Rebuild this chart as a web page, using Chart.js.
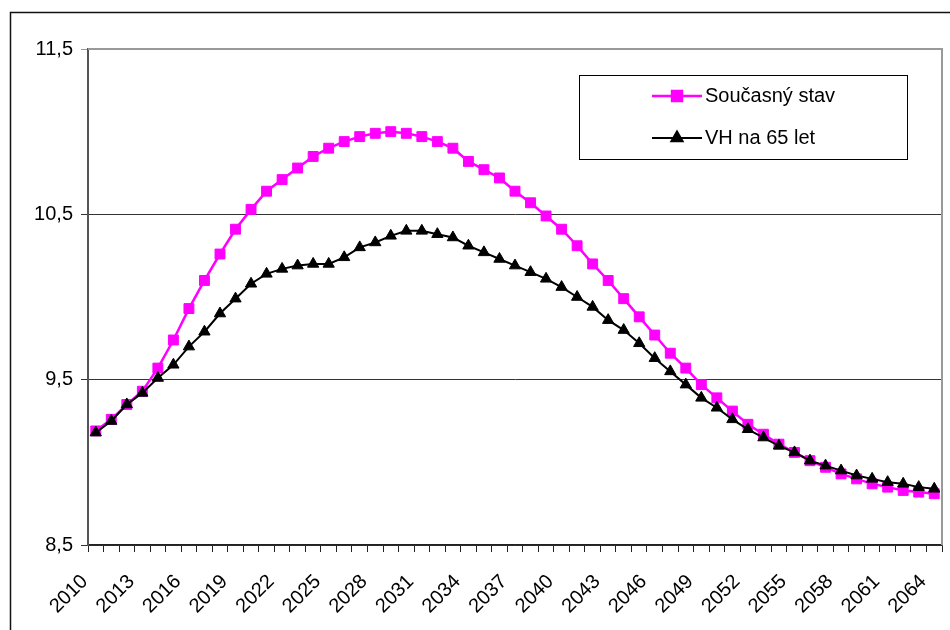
<!DOCTYPE html>
<html lang="cs">
<head>
    <meta charset="UTF-8">
    <title>Současný stav / VH na 65 let</title>
    <script src="https://cdn.jsdelivr.net/npm/chart.js@4"></script>
    <style>
        body { margin: 0; background: #fff; }
        #wrap { width: 950px; height: 630px; }
    </style>
</head>
<body>
    <div id="wrap"><canvas id="chart" width="950" height="630"></canvas></div>

    <script>
        // roky 2010 - 2064
        var years = [];
        for (var y = 2010; y <= 2064; y++) years.push(String(y));

        var currentState = [
            9.19, 9.26, 9.35, 9.43, 9.57, 9.74, 9.93, 10.10, 10.26, 10.41,
            10.53, 10.64, 10.71, 10.78, 10.85, 10.90, 10.94, 10.97, 10.99, 11.00,
            10.99, 10.97, 10.94, 10.90, 10.82, 10.77, 10.72, 10.64, 10.57, 10.49,
            10.41, 10.31, 10.20, 10.10, 9.99, 9.88, 9.77, 9.66, 9.57, 9.47,
            9.39, 9.31, 9.23, 9.17, 9.11, 9.06, 9.01, 8.97, 8.93, 8.90,
            8.87, 8.85, 8.83, 8.82, 8.81
        ];

        var retirement65 = [
            9.18, 9.25, 9.35, 9.42, 9.51, 9.59, 9.70, 9.79, 9.90, 9.99,
            10.08, 10.14, 10.17, 10.19, 10.20, 10.20, 10.24, 10.30, 10.33, 10.37,
            10.40, 10.40, 10.38, 10.36, 10.31, 10.27, 10.23, 10.19, 10.15, 10.11,
            10.06, 10.00, 9.94, 9.86, 9.80, 9.72, 9.63, 9.55, 9.47, 9.39,
            9.33, 9.26, 9.20, 9.15, 9.10, 9.06, 9.01, 8.98, 8.95, 8.92,
            8.90, 8.88, 8.87, 8.85, 8.84
        ];

        var yTicks = [8.5, 9.5, 10.5, 11.5];

        var FONT = "'Liberation Sans', Arial, sans-serif";

        // ramecek kolem celeho grafu + prava/horni hrana plochy
        var framePlugin = {
            id: 'frame',
            beforeDraw(chart) {
                var c = chart.ctx;
                c.save();
                c.fillStyle = '#fff';
                c.fillRect(0, 0, chart.width, chart.height);
                c.strokeStyle = '#111';
                c.lineWidth = 1.5;
                c.strokeRect(10.5, 12.5, 1000, 1000);
                c.restore();
            },
            beforeDatasetsDraw(chart) {
                var a = chart.chartArea, c = chart.ctx;
                c.save();
                c.strokeStyle = '#999';
                c.lineWidth = 2;
                c.beginPath();
                c.moveTo(a.left, a.top);
                c.lineTo(a.right, a.top);
                c.lineTo(a.right, a.bottom);
                c.stroke();
                c.restore();
            }
        };

        // legenda v boxu uvnitr grafu
        var boxLegend = {
            id: 'boxLegend',
            afterDraw(chart) {
                var c = chart.ctx;
                var bx = 579.5, by = 75.5, bw = 328, bh = 84;
                c.save();
                c.fillStyle = '#fff';
                c.fillRect(bx, by, bw, bh);
                c.strokeStyle = '#000';
                c.lineWidth = 1;
                c.strokeRect(bx, by, bw, bh);
                c.font = '20px ' + FONT;
                c.textBaseline = 'middle';
                chart.data.datasets.forEach(function (ds, i) {
                    var ly = 96 + i * 42;
                    c.strokeStyle = ds.borderColor;
                    c.lineWidth = ds.borderWidth;
                    c.beginPath();
                    c.moveTo(652, ly);
                    c.lineTo(702, ly);
                    c.stroke();
                    Chart.helpers.drawPoint(c, {
                        pointStyle: ds.pointStyle,
                        radius: ds.pointRadius,
                        borderWidth: 1
                    }, 677, ly);
                    c.fillStyle = ds.pointBackgroundColor;
                    c.fill();
                    c.fillStyle = '#000';
                    c.fillText(ds.label, 705, ly);
                });
                c.restore();
            }
        };

        var ctx = document.getElementById('chart').getContext('2d');
        new Chart(ctx, {
            type: 'line',
            data: {
                labels: years,
                datasets: [{
                    label: 'Současný stav',
                    data: currentState,
                    order: 2,
                    borderColor: '#ff00ff',
                    backgroundColor: '#ff00ff',
                    pointBackgroundColor: '#ff00ff',
                    pointBorderColor: '#ff00ff',
                    borderWidth: 2.5,
                    pointStyle: 'rect',
                    pointRadius: 7,
                    pointBorderWidth: 1,
                    tension: 0
                }, {
                    label: 'VH na 65 let',
                    data: retirement65,
                    order: 1,
                    borderColor: '#000',
                    backgroundColor: '#000',
                    pointBackgroundColor: '#000',
                    pointBorderColor: '#000',
                    borderWidth: 2,
                    pointStyle: 'triangle',
                    pointRadius: 6.5,
                    pointBorderWidth: 1,
                    tension: 0
                }]
            },
            options: {
                responsive: false,
                animation: false,
                layout: { padding: { left: 10, top: 49, right: 0, bottom: 0 } },
                plugins: {
                    legend: { display: false },
                    tooltip: { enabled: false }
                },
                scales: {
                    x: {
                        type: 'category',
                        offset: true,
                        afterFit(s) {
                            s.height = 85;
                            s.paddingLeft = 0;
                            s.paddingRight = 7;
                        },
                        grid: {
                            offset: true,
                            drawOnChartArea: false,
                            drawTicks: true,
                            tickLength: 7,
                            color: '#222'
                        },
                        border: { color: '#222', width: 1.5 },
                        ticks: {
                            autoSkip: false,
                            maxRotation: 45,
                            minRotation: 45,
                            padding: 18,
                            labelOffset: -11,
                            color: '#000',
                            font: { family: FONT, size: 20 },
                            callback(val, i) { return i % 3 === 0 ? this.getLabelForValue(val) : ''; }
                        }
                    },
                    y: {
                        min: 8.5,
                        max: 11.5,
                        afterFit(s) { s.width = 78; },
                        afterBuildTicks(s) { s.ticks = yTicks.map(function (v) { return { value: v }; }); },
                        grid: {
                            color(c) { return c.tick && c.tick.value === 11.5 ? '#999' : '#333'; },
                            tickLength: 7,
                            lineWidth: 1
                        },
                        border: { color: '#555', width: 2 },
                        ticks: {
                            padding: 8,
                            color: '#000',
                            font: { family: FONT, size: 20 },
                            callback(v) { return v.toFixed(1).replace('.', ','); }
                        }
                    }
                }
            },
            plugins: [framePlugin, boxLegend]
        });
    </script>
</body>
</html>
